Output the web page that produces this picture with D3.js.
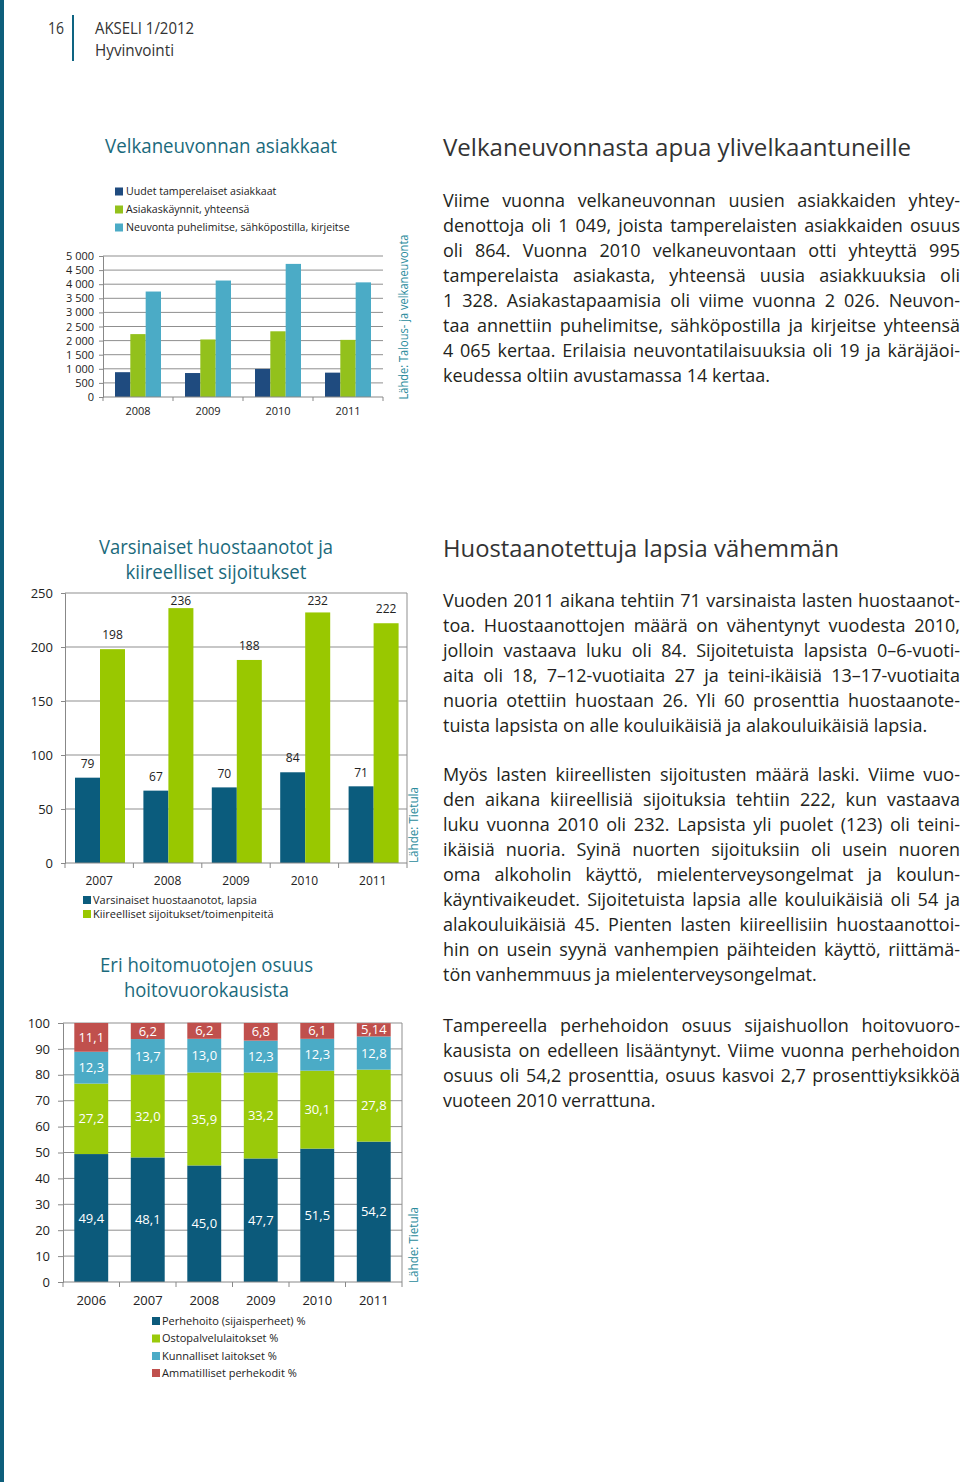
<!DOCTYPE html>
<html><head><meta charset="utf-8">
<script src="https://cdn.jsdelivr.net/npm/d3@7"></script>
<style>
html,body{margin:0;padding:0;background:#fff;}
svg{display:block;}
</style></head><body>
<svg id="page" width="960" height="1482"></svg>
<script>
// ---------------- DATA ----------------
const debtYears = ["2008", "2009", "2010", "2011"];
const debtSeries = ["Uudet tamperelaiset asiakkaat", "Asiakaskäynnit, yhteensä", "Neuvonta puhelimitse, sähköpostilla, kirjeitse"];
const debtNew = [880, 850, 995, 864];
const debtVisits = [2230, 2040, 2330, 2026];
const debtAdvice = [3740, 4130, 4720, 4065];
const debtTicks = [0, 500, 1000, 1500, 2000, 2500, 3000, 3500, 4000, 4500, 5000];

const custodyYears = ["2007", "2008", "2009", "2010", "2011"];
const custodySeries = ["Varsinaiset huostaanotot, lapsia", "Kiireelliset sijoitukset/toimenpiteitä"];
const custodyActual = [79, 67, 70, 84, 71];
const custodyUrgent = [198, 236, 188, 232, 222];
const custodyTicks = [0, 50, 100, 150, 200, 250];

const careYears = ["2006", "2007", "2008", "2009", "2010", "2011"];
const careSeries = ["Perhehoito (sijaisperheet) %", "Ostopalvelulaitokset %", "Kunnalliset laitokset %", "Ammatilliset perhekodit %"];
const careFamily = [49.4, 48.1, 45.0, 47.7, 51.5, 54.2];
const carePurchased = [27.2, 32.0, 35.9, 33.2, 30.1, 27.8];
const careMunicipal = [12.3, 13.7, 13.0, 12.3, 12.3, 12.8];
const careProfessional = [11.1, 6.2, 6.2, 6.8, 6.1, 5.14];
const careTicks = [0, 10, 20, 30, 40, 50, 60, 70, 80, 90, 100];

// ---------------- TEXT ----------------
const heading1 = "Velkaneuvonnasta apua ylivelkaantuneille";
const para1 = [
 "Viime vuonna velkaneuvonnan uusien asiakkaiden yhtey-",
 "denottoja oli 1 049, joista tamperelaisten asiakkaiden osuus",
 "oli 864. Vuonna 2010 velkaneuvontaan otti yhteyttä 995",
 "tamperelaista asiakasta, yhteensä uusia asiakkuuksia oli",
 "1 328. Asiakastapaamisia oli viime vuonna 2 026. Neuvon-",
 "taa annettiin puhelimitse, sähköpostilla ja kirjeitse yhteensä",
 "4 065 kertaa. Erilaisia neuvontatilaisuuksia oli 19 ja käräjäoi-",
 "keudessa oltiin avustamassa 14 kertaa."
];
const heading2 = "Huostaanotettuja lapsia vähemmän";
const para2 = [
 "Vuoden 2011 aikana tehtiin 71 varsinaista lasten huostaanot-",
 "toa. Huostaanottojen määrä on vähentynyt vuodesta 2010,",
 "jolloin vastaava luku oli 84. Sijoitetuista lapsista 0–6-vuoti-",
 "aita oli 18, 7–12-vuotiaita 27 ja teini-ikäisiä 13–17-vuotiaita",
 "nuoria otettiin huostaan 26. Yli 60 prosenttia huostaanote-",
 "tuista lapsista on alle kouluikäisiä ja alakouluikäisiä lapsia."
];
const para3 = [
 "Myös lasten kiireellisten sijoitusten määrä laski. Viime vuo-",
 "den aikana kiireellisiä sijoituksia tehtiin 222, kun vastaava",
 "luku vuonna 2010 oli 232. Lapsista yli puolet (123) oli teini-",
 "ikäisiä nuoria. Syinä nuorten sijoituksiin oli usein nuoren",
 "oma alkoholin käyttö, mielenterveysongelmat ja koulun-",
 "käyntivaikeudet. Sijoitetuista lapsia alle kouluikäisiä oli 54 ja",
 "alakouluikäisiä 45. Pienten lasten kiireellisiin huostaanottoi-",
 "hin on usein syynä vanhempien päihteiden käyttö, riittämä-",
 "tön vanhemmuus ja mielenterveysongelmat."
];
const para4 = [
 "Tampereella perhehoidon osuus sijaishuollon hoitovuoro-",
 "kausista on edelleen lisääntynyt. Viime vuonna perhehoidon",
 "osuus oli 54,2 prosenttia, osuus kasvoi 2,7 prosenttiyksikköä",
 "vuoteen 2010 verrattuna."
];

// ---------------- SETUP ----------------
const FONT = "'Open Sans', 'Noto Sans', sans-serif";
const TEAL = "#1b6a7c";
const svg = d3.select("#page").attr("font-family", FONT);
svg.append("rect").attr("width", 960).attr("height", 1482).attr("fill", "#fff");
svg.append("rect").attr("x", 0).attr("y", 0).attr("width", 4).attr("height", 1482).attr("fill", "#0e5f7b");

// header
svg.append("text").attr("x", 48).attr("y", 34).attr("font-size", 15.5).attr("fill", "#333")
  .attr("textLength", 16).attr("lengthAdjust", "spacingAndGlyphs").text("16");
svg.append("line").attr("x1", 73).attr("x2", 73).attr("y1", 15).attr("y2", 61).attr("stroke", "#0e6482").attr("stroke-width", 2);
svg.append("text").attr("x", 95).attr("y", 34).attr("font-size", 15.5).attr("fill", "#333")
  .attr("textLength", 99).attr("lengthAdjust", "spacingAndGlyphs").text("AKSELI 1/2012");
svg.append("text").attr("x", 95).attr("y", 56).attr("font-size", 15.5).attr("fill", "#333")
  .attr("textLength", 79).attr("lengthAdjust", "spacingAndGlyphs").text("Hyvinvointi");

function fitText(sel, target) {
  sel.attr("textLength", target).attr("lengthAdjust", "spacingAndGlyphs");
}

function title(lines, cx, baselines, widths, size) {
  lines.forEach((l, i) => {
    const t = svg.append("text").attr("x", cx).attr("y", baselines[i]).attr("text-anchor", "middle")
      .attr("font-size", size).attr("fill", TEAL).text(l);
    fitText(t, widths[i]);
  });
}

function source(text, x, cy, len, size) {
  const t = svg.append("text").attr("transform", `translate(${x},${cy}) rotate(-90)`)
    .attr("text-anchor", "middle").attr("font-size", size).attr("fill", "#2a8b9c").text(text);
  fitText(t, len);
}

// ---------------- CHART 1 ----------------
(function () {
  const loc = d3.formatLocale({ decimal: ",", thousands: " ", grouping: [3], currency: ["", "€"] });
  const fmt = loc.format(",");
  const left = 103, right = 383, top = 256, bottom = 397;
  const x = d3.scaleBand().domain(debtYears).range([left, right]);
  const x1 = d3.scaleBand().domain(debtSeries).range([12, 58]);
  const y = d3.scaleLinear().domain([0, 5000]).range([bottom, top]);
  const colors = ["#1f4b7f", "#93c11c", "#4babc6"];
  const vals = [debtNew, debtVisits, debtAdvice];
  const g = svg.append("g");

  title(["Velkaneuvonnan asiakkaat"], 221, [153], [232], 20);

  g.selectAll("line.grid").data(debtTicks.filter(d => d > 0)).join("line")
    .attr("x1", left).attr("x2", right).attr("y1", d => y(d)).attr("y2", d => y(d))
    .attr("stroke", "#8f8f8f").attr("stroke-width", 1);
  debtSeries.forEach((s, si) => {
    g.selectAll(null).data(debtYears).join("rect")
      .attr("x", d => x(d) + x1(s)).attr("width", x1.bandwidth())
      .attr("y", (d, i) => y(vals[si][i])).attr("height", (d, i) => bottom - y(vals[si][i]))
      .attr("fill", colors[si]);
  });
  const ya = g.append("g").attr("transform", `translate(${left},0)`)
    .call(d3.axisLeft(y).tickValues(debtTicks).tickFormat(fmt).tickSize(4).tickPadding(5));
  ya.select(".domain").attr("stroke", "#888");
  ya.selectAll(".tick line").attr("stroke", "#888");
  ya.selectAll("text").attr("font-size", 11).attr("fill", "#222").attr("font-family", FONT);
  g.append("line").attr("x1", left).attr("x2", right).attr("y1", bottom).attr("y2", bottom).attr("stroke", "#888");
  g.selectAll(null).data(debtYears.map(d => x(d)).concat([right])).join("line")
    .attr("x1", d => d).attr("x2", d => d).attr("y1", bottom).attr("y2", bottom + 4).attr("stroke", "#888");
  g.selectAll(null).data(debtYears).join("text")
    .attr("x", d => x(d) + x.bandwidth() / 2).attr("y", 415).attr("text-anchor", "middle")
    .attr("font-size", 11).attr("fill", "#222").text(d => d);
  const lg = g.selectAll(null).data(debtSeries).join("g")
    .attr("transform", (d, i) => `translate(115,${[191.5, 209.5, 227.5][i]})`);
  lg.append("rect").attr("x", 0).attr("y", -4).attr("width", 8).attr("height", 8).attr("fill", (d, i) => colors[i]);
  lg.append("text").attr("x", 11).attr("dy", "0.35em").attr("font-size", 10.6).attr("fill", "#222").text(d => d);

  source("Lähde: Talous- ja velkaneuvonta", 408, 317, 165, 12.5);
})();

// ---------------- CHART 2 ----------------
(function () {
  const left = 65, right = 407, top = 593, bottom = 863;
  const x = d3.scaleBand().domain(custodyYears).range([left, right]);
  const x1 = d3.scaleBand().domain(custodySeries).range([10, 60]);
  const y = d3.scaleLinear().domain([0, 250]).range([bottom, top]);
  const colors = ["#0b5c7d", "#99c800"];
  const vals = [custodyActual, custodyUrgent];
  const g = svg.append("g");

  title(["Varsinaiset huostaanotot ja", "kiireelliset sijoitukset"], 216, [554, 579], [234, 181], 20);

  g.selectAll(null).data(custodyTicks.filter(d => d > 0)).join("line")
    .attr("x1", left).attr("x2", right).attr("y1", d => y(d)).attr("y2", d => y(d))
    .attr("stroke", "#8f8f8f");
  g.append("line").attr("x1", right).attr("x2", right).attr("y1", top).attr("y2", bottom).attr("stroke", "#8f8f8f");

  custodySeries.forEach((s, si) => {
    g.selectAll(null).data(custodyYears).join("rect")
      .attr("x", d => x(d) + x1(s)).attr("width", x1.bandwidth())
      .attr("y", (d, i) => y(vals[si][i])).attr("height", (d, i) => bottom - y(vals[si][i]))
      .attr("fill", colors[si]);
    g.selectAll(null).data(custodyYears).join("text")
      .attr("x", d => x(d) + x1(s) + x1.bandwidth() / 2)
      .attr("y", (d, i) => Math.max(y(vals[si][i]) - 14, top + 8))
      .attr("dy", "0.35em").attr("text-anchor", "middle").attr("font-size", 12).attr("fill", "#222")
      .text((d, i) => vals[si][i]);
  });

  const ya = g.append("g").attr("transform", `translate(${left},0)`)
    .call(d3.axisLeft(y).tickValues(custodyTicks).tickSize(4).tickPadding(8));
  ya.select(".domain").attr("stroke", "#888");
  ya.selectAll(".tick line").attr("stroke", "#888");
  ya.selectAll("text").attr("font-size", 13).attr("fill", "#222").attr("font-family", FONT);
  g.append("line").attr("x1", left).attr("x2", right).attr("y1", bottom).attr("y2", bottom).attr("stroke", "#888");
  g.selectAll(null).data(custodyYears.map(d => x(d)).concat([right])).join("line")
    .attr("x1", d => d).attr("x2", d => d).attr("y1", bottom).attr("y2", bottom + 5).attr("stroke", "#888");
  g.selectAll(null).data(custodyYears).join("text")
    .attr("x", d => x(d) + x.bandwidth() / 2).attr("y", 885).attr("text-anchor", "middle")
    .attr("font-size", 12).attr("fill", "#222").text(d => d);

  const lg = g.selectAll(null).data(custodySeries).join("g")
    .attr("transform", (d, i) => `translate(83,${[900, 914][i]})`);
  lg.append("rect").attr("x", 0).attr("y", -4).attr("width", 8).attr("height", 8).attr("fill", (d, i) => colors[i]);
  lg.append("text").attr("x", 10).attr("dy", "0.35em").attr("font-size", 11).attr("fill", "#222").text(d => d);

  source("Lähde: Tietula", 418, 825, 76, 12.5);
})();

// ---------------- CHART 3 ----------------
(function () {
  const left = 63, right = 402, top = 1023, bottom = 1282;
  const x = d3.scaleBand().domain(careYears).range([left, right]).paddingInner(0.4).paddingOuter(0.2);
  const y = d3.scaleLinear().domain([0, 100]).range([bottom, top]);
  const colors = ["#0c5a7b", "#9aca0a", "#4babc6", "#c0504d"];
  const vals = [careFamily, carePurchased, careMunicipal, careProfessional];
  const rows = careYears.map((yr, i) => {
    const o = { year: yr };
    careSeries.forEach((s, si) => o[s] = vals[si][i]);
    return o;
  });
  const stack = d3.stack().keys(careSeries)(rows);
  const fmt = v => (Math.round(v * 10) === v * 10 ? v.toFixed(1) : v.toFixed(2)).replace(".", ",");
  const g = svg.append("g");
  const step = x.step();

  title(["Eri hoitomuotojen osuus", "hoitovuorokausista"], 206.5, [972, 997], [213, 165], 19.5);

  g.selectAll(null).data(careTicks.filter(d => d > 0)).join("line")
    .attr("x1", left).attr("x2", right).attr("y1", d => y(d)).attr("y2", d => y(d))
    .attr("stroke", "#8f8f8f");
  g.append("line").attr("x1", right).attr("x2", right).attr("y1", top).attr("y2", bottom).attr("stroke", "#8f8f8f");

  stack.forEach((layer, si) => {
    g.selectAll(null).data(layer).join("rect")
      .attr("x", d => x(d.data.year)).attr("width", x.bandwidth())
      .attr("y", d => y(d[1])).attr("height", d => y(d[0]) - y(d[1]))
      .attr("fill", colors[si]);
    g.selectAll(null).data(layer).join("text")
      .attr("x", d => x(d.data.year) + x.bandwidth() / 2)
      .attr("y", d => (y(d[0]) + y(d[1])) / 2).attr("dy", "0.35em")
      .attr("text-anchor", "middle").attr("font-size", 13).attr("fill", "#fff")
      .text(d => fmt(vals[si][careYears.indexOf(d.data.year)]));
  });

  const ya = g.append("g").attr("transform", `translate(${left},0)`)
    .call(d3.axisLeft(y).tickValues(careTicks).tickSize(5).tickPadding(8));
  ya.select(".domain").attr("stroke", "#888");
  ya.selectAll(".tick line").attr("stroke", "#888");
  ya.selectAll("text").attr("font-size", 13).attr("fill", "#222").attr("font-family", FONT);
  g.append("line").attr("x1", left).attr("x2", right).attr("y1", bottom).attr("y2", bottom).attr("stroke", "#888");
  g.selectAll(null).data(d3.range(careYears.length + 1).map(i => left + i * step)).join("line")
    .attr("x1", d => d).attr("x2", d => d).attr("y1", bottom).attr("y2", bottom + 5).attr("stroke", "#888");
  g.selectAll(null).data(careYears).join("text")
    .attr("x", d => x(d) + x.bandwidth() / 2).attr("y", 1305).attr("text-anchor", "middle")
    .attr("font-size", 13).attr("fill", "#222").text(d => d);

  const lg = g.selectAll(null).data(careSeries).join("g")
    .attr("transform", (d, i) => `translate(152,${[1321, 1338.5, 1356, 1373][i]})`);
  lg.append("rect").attr("x", 0).attr("y", -4).attr("width", 8).attr("height", 8).attr("fill", (d, i) => colors[i]);
  lg.append("text").attr("x", 10).attr("dy", "0.35em").attr("font-size", 11).attr("fill", "#222").text(d => d);

  source("Lähde: Tietula", 418, 1245, 76, 12.5);
})();

// ---------------- TEXT COLUMN ----------------
const TX = 443, TW = 517, BODY = 18;
function heading(text, y, width) {
  const t = svg.append("text").attr("x", TX).attr("y", y).attr("font-size", 24).attr("fill", "#333").text(text);
  fitText(t, width);
}
heading(heading1, 156, 468);
heading(heading2, 557, 396);

const allParas = [[para1, 207], [para2, 607], [para3, 781], [para4, 1032]];
let squeeze = 1;
allParas.forEach(([lines]) => lines.forEach(l => {
  const t = svg.append("text").attr("font-size", BODY).text(l);
  squeeze = Math.min(squeeze, TW / t.node().getComputedTextLength());
  t.remove();
}));
allParas.forEach(([lines, y0]) => {
  lines.forEach((line, i) => {
    const justify = i < lines.length - 1;
    const t = svg.append("text").attr("font-size", BODY).attr("fill", "#231f20")
      .attr("transform", `translate(${TX},${y0 + i * 25}) scale(${squeeze},1)`);
    const words = line.split(" ");
    const spans = words.map(w => t.append("tspan").text(w));
    const widths = spans.map(s => s.node().getComputedTextLength());
    const sum = d3.sum(widths);
    const weff = TW / squeeze;
    const gap = justify && words.length > 1 ? (weff - sum) / (words.length - 1) : BODY * 0.26;
    let cx = 0;
    spans.forEach((s, j) => { s.attr("x", cx); cx += widths[j] + gap; });
  });
});
</script>
</body></html>
